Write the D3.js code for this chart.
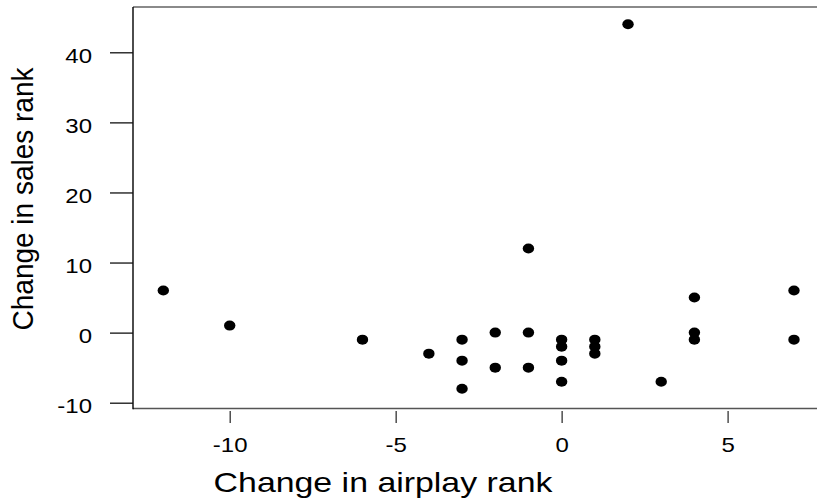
<!DOCTYPE html>
<html>
<head>
<meta charset="utf-8">
<script src="https://cdn.jsdelivr.net/npm/d3@7"></script>
<style>
  html, body { margin: 0; padding: 0; background: #fff; }
  svg { display: block; }
  text { font-family: "Liberation Sans", Arial, sans-serif; fill: #000; }
</style>
</head>
<body>
<svg id="chart" width="817" height="504"></svg>
<script>
// Change in airplay rank vs change in sales rank
const airplayChange = [-12, -10, -6, -4, -3, -3, -3, -2, -2, -1, -1, -1, 0, 0, 0, 0, 1, 1, 1, 2, 3, 4, 4, 4, 7, 7];
const salesChange   = [  6,   1, -1, -3, -1, -4, -8,  0, -5, 12,  0, -5, -1, -2, -4, -7, -1, -2, -3, 44, -7, 5, 0, -1, 6, -1];
const xTickValues = [-10, -5, 0, 5];
const yTickValues = [-10, 0, 10, 20, 30, 40];
const xTitle = "Change in airplay rank";
const yTitle = "Change in sales rank";

const W = 817, H = 504;
const stretch = 1.2;            // horizontal aspect of glyphs and markers
const frame = { left: 133, top: 7, bottom: 408.5, right: 817 };
const plain = d => String(d);   // ASCII hyphen for negatives

const svg = d3.select("#chart");

const x = d3.scaleLinear().domain([-10, 5]).range([229.7, 727.6]);
const y = d3.scaleLinear().domain([-10, 40]).range([402.7, 52.3]);

// plot frame: left, top and bottom edges
svg.append("line").attr("x1", frame.left).attr("x2", frame.right)
  .attr("y1", frame.top).attr("y2", frame.top)
  .attr("stroke", "#8a8a8a").attr("stroke-width", 1.8);
svg.append("line").attr("x1", frame.left).attr("x2", frame.right)
  .attr("y1", frame.bottom).attr("y2", frame.bottom)
  .attr("stroke", "#555").attr("stroke-width", 1.5);
svg.append("line").attr("x1", frame.left).attr("x2", frame.left)
  .attr("y1", frame.top).attr("y2", frame.bottom + 0.7)
  .attr("stroke", "#000").attr("stroke-width", 1.4);

// y axis
const yAxis = svg.append("g")
  .attr("transform", `translate(${frame.left},0)`)
  .call(d3.axisLeft(y).tickValues(yTickValues).tickSize(23).tickFormat(plain));
yAxis.select(".domain").remove();
yAxis.selectAll(".tick line").attr("stroke", "#111").attr("stroke-width", 1.3);
yAxis.selectAll(".tick text")
  .attr("x", null).attr("dy", null)
  .attr("transform", "translate(-41,10) scale(" + stretch + ",1)")
  .attr("text-anchor", "end")
  .style("font-size", "20px")
  .style("font-family", "'Liberation Sans', Arial, sans-serif")
  .attr("fill", "#000");

// x axis, ticks sit slightly below the frame
const xAxis = svg.append("g")
  .attr("transform", "translate(0,411)")
  .call(d3.axisBottom(x).tickValues(xTickValues).tickSize(12).tickFormat(plain));
xAxis.select(".domain").remove();
xAxis.selectAll(".tick line").attr("stroke", "#333").attr("stroke-width", 1.3);
xAxis.selectAll(".tick text")
  .attr("y", null).attr("dy", null)
  .attr("transform", "translate(0,41) scale(" + stretch + ",1)")
  .attr("text-anchor", "middle")
  .style("font-size", "20px")
  .style("font-family", "'Liberation Sans', Arial, sans-serif")
  .attr("fill", "#000");

// points
const points = airplayChange.map((a, i) => ({ a, s: salesChange[i] }));
svg.append("g").selectAll("ellipse").data(points).join("ellipse")
  .attr("cx", d => x(d.a))
  .attr("cy", d => y(d.s))
  .attr("rx", 5.7)
  .attr("ry", 5)
  .attr("fill", "#000");

// axis titles
svg.append("text")
  .attr("transform", "translate(383,492) scale(1.21,1)")
  .attr("text-anchor", "middle")
  .style("font-size", "28px")
  .text(xTitle);

svg.append("text")
  .attr("transform", "translate(33,199) scale(1.08,1) rotate(-90)")
  .attr("text-anchor", "middle")
  .style("font-size", "28px")
  .text(yTitle);
</script>
</body>
</html>
